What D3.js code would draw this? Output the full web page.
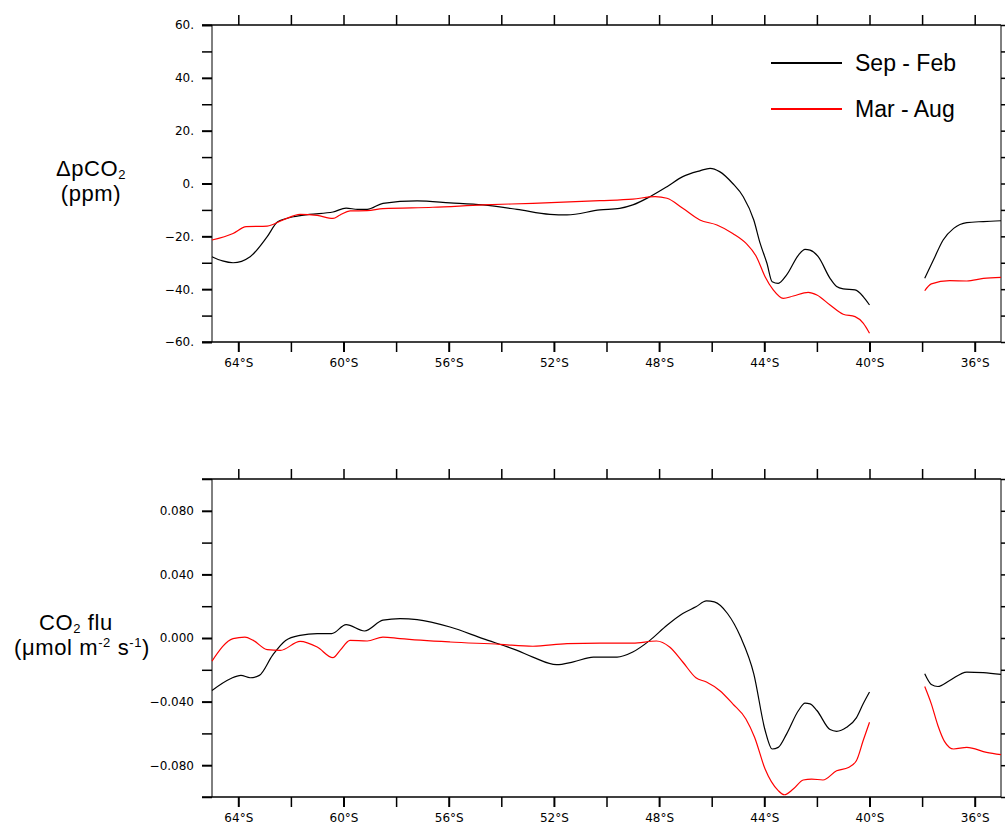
<!DOCTYPE html>
<html>
<head>
<meta charset="utf-8">
<script src="https://d3js.org/d3.v7.min.js"></script>
<style>
  body { margin: 0; background: #fff; }
  svg { display: block; }
  .tick text { font-family: "DejaVu Sans", sans-serif; font-size: 12px; fill: #000; }
  .ylab { font-family: "Liberation Sans", Arial, sans-serif; font-size: 22px; letter-spacing: 0.6px; fill: #000; }
  .legend text { font-family: "Liberation Sans", Arial, sans-serif; font-size: 23px; fill: #000; }
</style>
</head>
<body>
<svg width="1005" height="828"></svg>
<script>
// values (latitude in degrees north, negative = south)
var dpLatSep = [-65, -64.6, -64.2, -63.55, -62.9, -62.5, -61.9, -61.3, -60.4, -59.9, -59.46, -59.1, -58.5, -57.2, -55.95, -54.7, -53.4, -52.15, -51.5, -50.25, -49.5, -49.0, -48.35, -47.7, -47.1, -46.45, -46.06, -45.7, -45.2, -44.8, -44.4, -44.16, -43.9, -43.7, -43.47, -43.15, -42.7, -42.45, -42.26, -41.95, -41.5, -41.25, -41.0, -40.55, -40.24, -40.0, -39, -37.9, -37.57, -37.2, -36.8, -36.3, -35.67, -35.0];
var dpSepFeb = [-27.7, -29.3, -30.0, -27.7, -20.1, -14.5, -12.6, -11.7, -10.8, -9.3, -9.8, -9.8, -7.5, -6.6, -7.3, -8.1, -9.8, -11.7, -11.9, -10.0, -9.4, -8.1, -5.0, -1.2, 2.6, 4.8, 5.75, 4.5, 0, -5.0, -13.8, -22.6, -30.2, -37.2, -37.8, -34.6, -27.1, -24.9, -25.2, -27.7, -35.9, -39.0, -39.9, -40.3, -42.8, -46.0, null, -35.9, -29.0, -21.4, -17.0, -14.8, -14.4, -14.1];

var dpLatMar = [-65, -64.2, -63.7, -62.9, -62.3, -61.65, -61.0, -60.4, -60.13, -59.75, -59.1, -58.5, -56.6, -54.7, -52.8, -50.25, -49.0, -48.15, -47.7, -47.1, -46.45, -45.8, -45.2, -44.7, -44.3, -43.97, -43.66, -43.28, -42.9, -42.33, -42.0, -41.5, -41.0, -40.55, -40.24, -40.0, -39, -37.9, -37.65, -36.95, -36.3, -35.67, -35.0];
var dpMarAug = [-21.4, -18.9, -16.3, -16.1, -13.8, -11.7, -12.1, -13.2, -11.9, -10.4, -10.3, -9.5, -9.0, -8.1, -7.5, -6.5, -5.9, -5.0, -5.6, -9.4, -13.8, -15.7, -18.9, -22.6, -27.7, -35.3, -40.3, -43.5, -42.6, -41.2, -42.2, -46.0, -49.5, -50.4, -52.9, -56.7, null, -40.6, -38.0, -36.8, -36.9, -35.9, -35.5];

var fxLatSep = [-65, -64.3, -63.9, -63.55, -63.2, -62.7, -62.2, -61.65, -61.0, -60.45, -59.9, -59.2, -58.5, -57.85, -57.2, -55.95, -54.7, -53.4, -52.8, -51.9, -51.26, -50.5, -49.6, -49.0, -48.35, -47.7, -47.1, -46.6, -46.2, -45.9, -45.4, -44.9, -44.4, -43.97, -43.7, -43.47, -43.15, -42.7, -42.45, -42.26, -42.0, -41.5, -41.25, -40.87, -40.5, -40.24, -40.0, -39, -37.9, -37.65, -37.4, -36.95, -36.3, -35.67, -35.0];
var fxSepFeb = [-0.033, -0.0256, -0.0235, -0.025, -0.0235, -0.0109, -0.0015, 0.0017, 0.0028, 0.0028, 0.0084, 0.0044, 0.0112, 0.0122, 0.0116, 0.0069, -0.0004, -0.0078, -0.012, -0.0168, -0.015, -0.012, -0.012, -0.0088, -0.0015, 0.008, 0.0154, 0.0196, 0.0233, 0.0227, 0.0154, 0.0006, -0.0225, -0.058, -0.0698, -0.0688, -0.0603, -0.0456, -0.041, -0.0414, -0.0456, -0.0576, -0.0587, -0.0562, -0.0502, -0.0414, -0.034, null, -0.0225, -0.0292, -0.0305, -0.0267, -0.0214, -0.0218, -0.0229];

var fxLatMar = [-65, -64.2, -63.75, -63.43, -62.9, -62.4, -61.65, -61.0, -60.4, -60.13, -59.75, -59.1, -58.5, -57.85, -55.95, -54.05, -52.8, -51.5, -50.25, -49.0, -48.1, -47.6, -47.1, -46.6, -46.2, -45.7, -45.2, -44.7, -44.37, -43.97, -43.47, -43.24, -42.9, -42.52, -42.2, -41.77, -41.25, -40.8, -40.5, -40.24, -40.0, -39, -37.9, -37.65, -37.4, -37.15, -36.8, -36.3, -35.55, -35.0];
var fxMarAug = [-0.0145, -0.0004, 0.0006, -0.0015, -0.0073, -0.0078, -0.0021, -0.0057, -0.0124, -0.0078, -0.0015, -0.0019, 0.0006, -0.0004, -0.0025, -0.004, -0.0052, -0.0035, -0.0032, -0.0032, -0.0019, -0.0057, -0.0151, -0.025, -0.0277, -0.033, -0.0414, -0.0509, -0.0624, -0.0824, -0.096, -0.0986, -0.095, -0.0893, -0.0887, -0.0893, -0.0835, -0.0814, -0.0772, -0.0645, -0.053, null, -0.0305, -0.0414, -0.055, -0.065, -0.0698, -0.0688, -0.0719, -0.0734];

var latLabelTicks = [-64, -60, -56, -52, -48, -44, -40, -36];
var latMinorTicks = [-62, -58, -54, -50, -46, -42, -38];
var dpMajorTicks = [-60, -40, -20, 0, 20, 40, 60];
var dpMinorTicks = [-50, -30, -10, 10, 30, 50];
var fxMajorTicks = [-0.08, -0.04, 0, 0.04, 0.08];
var fxMinorTicks = [-0.1, -0.06, -0.02, 0.02, 0.06, 0.1];

var seriesNames = ["Sep - Feb", "Mar - Aug"];
var seriesColors = ["#000", "#ff0000"];

var left = 212, right = 1001;
var svg = d3.select('svg');

var x = d3.scaleLinear().domain([-65, -35]).range([left, right]);

function pairs(lats, vals) {
  return lats.map((l, i) => [l, vals[i]]);
}

function panel(top, bottom, yDomain, major, minor, fmt, series) {
  var y = d3.scaleLinear().domain(yDomain).range([bottom, top]);
  var g = svg.append('g');

  // bottom axis: labelled and unlabelled ticks
  g.append('g')
    .attr('transform', `translate(0,${bottom})`)
    .call(d3.axisBottom(x).tickValues(latLabelTicks).tickSize(10).tickPadding(6)
      .tickFormat(d => (-d) + '°S'))
    .call(a => a.selectAll('line').attr('stroke-width', 2));
  g.append('g')
    .attr('transform', `translate(0,${bottom})`)
    .call(d3.axisBottom(x).tickValues(latMinorTicks).tickSize(10).tickFormat(''))
    .call(a => a.selectAll('line').attr('stroke-width', 1.5));

  // top axis: ticks only
  g.append('g')
    .attr('transform', `translate(0,${top})`)
    .call(d3.axisTop(x).tickValues(latLabelTicks.concat(latMinorTicks)).tickSize(10).tickFormat(''))
    .call(a => a.selectAll('line').attr('stroke-width', 1.5));

  // left axis
  g.append('g')
    .attr('transform', `translate(${left},0)`)
    .call(d3.axisLeft(y).tickValues(major).tickSize(10).tickPadding(8).tickFormat(fmt))
    .call(a => a.selectAll('line').attr('stroke-width', 2));
  g.append('g')
    .attr('transform', `translate(${left},0)`)
    .call(d3.axisLeft(y).tickValues(minor).tickSize(10).tickFormat(''))
    .call(a => a.selectAll('line').attr('stroke-width', 1.5));

  // right axis
  g.append('g')
    .attr('transform', `translate(${right},0)`)
    .call(d3.axisRight(y).tickValues(major.concat(minor)).tickSize(10).tickFormat(''))
    .call(a => a.selectAll('line').attr('stroke-width', 1.5));

  g.selectAll('.domain').remove();

  // frame
  g.append('line').attr('x1', left - 10).attr('x2', right).attr('y1', top).attr('y2', top)
    .attr('stroke', '#000').attr('stroke-width', 1.5);
  g.append('line').attr('x1', left - 10).attr('x2', right).attr('y1', bottom).attr('y2', bottom)
    .attr('stroke', '#000').attr('stroke-width', 1.5);
  g.append('line').attr('x1', left).attr('x2', left).attr('y1', top).attr('y2', bottom)
    .attr('stroke', '#000').attr('stroke-width', 1);
  g.append('line').attr('x1', right).attr('x2', right).attr('y1', top).attr('y2', bottom)
    .attr('stroke', '#000').attr('stroke-width', 1);

  var line = d3.line()
    .defined(d => d[1] !== null)
    .x(d => x(d[0]))
    .y(d => y(d[1]))
    .curve(d3.curveMonotoneX);

  series.forEach((s, i) => {
    g.append('path')
      .datum(s)
      .attr('fill', 'none')
      .attr('stroke', seriesColors[i])
      .attr('stroke-width', 1.2)
      .attr('d', line);
  });
  return g;
}

panel(25, 342, [-60, 60], dpMajorTicks, dpMinorTicks, d => d3.format('d')(d) + '.',
  [pairs(dpLatSep, dpSepFeb), pairs(dpLatMar, dpMarAug)]);

panel(479, 797, [-0.1, 0.1], fxMajorTicks, fxMinorTicks, d3.format('.3f'),
  [pairs(fxLatSep, fxSepFeb), pairs(fxLatMar, fxMarAug)]);

// y labels, two lines each in one text element
var t1 = svg.append('text').attr('class', 'ylab').attr('text-anchor', 'middle');
t1.append('tspan').attr('x', 91).attr('y', 176).text('ΔpCO');
t1.append('tspan').attr('font-size', 13).attr('dy', 3).text('2');
t1.append('tspan').attr('x', 91).attr('y', 201).text('(ppm)');

var t2 = svg.append('text').attr('class', 'ylab').attr('text-anchor', 'middle');
t2.append('tspan').attr('x', 76).attr('y', 630).text('CO');
t2.append('tspan').attr('font-size', 13).attr('dy', 3).text('2');
t2.append('tspan').attr('dy', -3).text(' flu');
t2.append('tspan').attr('x', 82).attr('y', 655).text('(μmol m');
t2.append('tspan').attr('font-size', 13).attr('dy', -8).text('-2');
t2.append('tspan').attr('dy', 8).text(' s');
t2.append('tspan').attr('font-size', 13).attr('dy', -8).text('-1');
t2.append('tspan').attr('dy', 8).text(')');

// legend
var legend = svg.append('g').attr('class', 'legend');
seriesNames.forEach((name, i) => {
  var ly = 63 + i * 46;
  legend.append('line').attr('x1', 771).attr('x2', 842).attr('y1', ly).attr('y2', ly)
    .attr('stroke', seriesColors[i]).attr('stroke-width', 2);
  legend.append('text').attr('x', 855).attr('y', ly + 8).text(name);
});
</script>
</body>
</html>
